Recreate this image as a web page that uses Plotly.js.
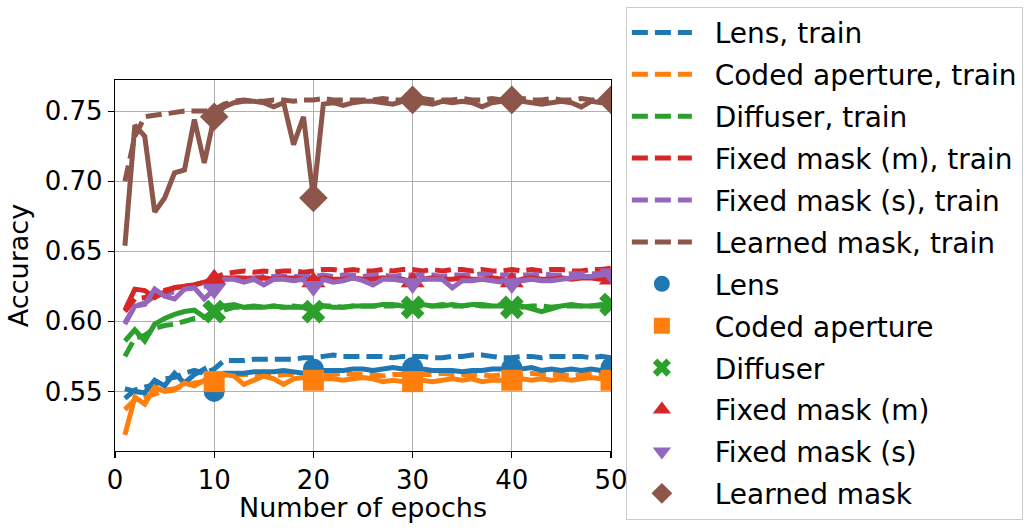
<!DOCTYPE html>
<html>
<head>
<meta charset="utf-8">
<script src="https://cdn.plot.ly/plotly-3.0.1.min.js"></script>
<style>
  html, body { margin: 0; padding: 0; background: #fff; }
  #chart { width: 1034px; height: 531px; }
</style>
</head>
<body>
<div id="chart"></div>
<script>
// epochs on the x axis
const epochs = [1, 2, 3, 4, 5, 6, 7, 8, 9, 10, 11, 12, 13, 14, 15, 16, 17, 18, 19, 20,
  21, 22, 23, 24, 25, 26, 27, 28, 29, 30, 31, 32, 33, 34, 35, 36, 37, 38, 39, 40,
  41, 42, 43, 44, 45, 46, 47, 48, 49, 50];
const markerEpochs = [10, 20, 30, 40, 50];

const methods = ['Lens', 'Coded aperture', 'Diffuser', 'Fixed mask (m)', 'Fixed mask (s)', 'Learned mask'];
const colors = ['#1f77b4', '#ff7f0e', '#2ca02c', '#d62728', '#9467bd', '#8c564b'];
const symbols = ['circle', 'square', 'x', 'triangle-up', 'triangle-down', 'diamond'];

// training accuracy (dashed)
const lensTrain = [0.545, 0.551, 0.553, 0.555, 0.559, 0.560, 0.563, 0.565, 0.563, 0.566,
  0.572, 0.572, 0.572, 0.573, 0.573, 0.573, 0.573, 0.573, 0.574, 0.574,
  0.575, 0.576, 0.575, 0.575, 0.575, 0.575, 0.575, 0.574, 0.575, 0.575,
  0.575, 0.574, 0.574, 0.575, 0.575, 0.576, 0.576, 0.575, 0.574, 0.574,
  0.575, 0.575, 0.574, 0.575, 0.575, 0.575, 0.575, 0.574, 0.575, 0.574];
const codedTrain = [0.537, 0.544, 0.546, 0.548, 0.551, 0.552, 0.554, 0.556, 0.557, 0.559,
  0.562, 0.562, 0.562, 0.562, 0.561, 0.561, 0.562, 0.562, 0.562, 0.562,
  0.562, 0.562, 0.563, 0.562, 0.562, 0.562, 0.561, 0.562, 0.562, 0.562,
  0.562, 0.562, 0.563, 0.562, 0.562, 0.562, 0.562, 0.561, 0.562, 0.562,
  0.562, 0.563, 0.562, 0.562, 0.562, 0.561, 0.562, 0.562, 0.562, 0.562];
const diffuserTrain = [0.575, 0.588, 0.590, 0.595, 0.597, 0.598, 0.600, 0.602, 0.603, 0.605,
  0.608, 0.610, 0.610, 0.610, 0.610, 0.611, 0.610, 0.611, 0.610, 0.610,
  0.611, 0.611, 0.610, 0.611, 0.611, 0.611, 0.611, 0.611, 0.612, 0.611,
  0.611, 0.611, 0.612, 0.611, 0.611, 0.612, 0.611, 0.611, 0.612, 0.611,
  0.610, 0.611, 0.611, 0.610, 0.611, 0.611, 0.611, 0.611, 0.612, 0.611];
const fixedMTrain = [0.607, 0.616, 0.617, 0.620, 0.622, 0.624, 0.625, 0.626, 0.628, 0.631,
  0.634, 0.635, 0.636, 0.635, 0.636, 0.635, 0.636, 0.636, 0.635, 0.636,
  0.637, 0.637, 0.636, 0.637, 0.636, 0.636, 0.637, 0.636, 0.637, 0.637,
  0.636, 0.637, 0.636, 0.637, 0.637, 0.636, 0.637, 0.636, 0.636, 0.637,
  0.636, 0.637, 0.636, 0.637, 0.637, 0.636, 0.636, 0.637, 0.637, 0.638];
const fixedSTrain = [0.599, 0.611, 0.613, 0.618, 0.620, 0.621, 0.623, 0.624, 0.625, 0.627,
  0.630, 0.631, 0.631, 0.631, 0.632, 0.632, 0.632, 0.632, 0.632, 0.632,
  0.633, 0.632, 0.633, 0.633, 0.632, 0.633, 0.633, 0.632, 0.633, 0.633,
  0.633, 0.633, 0.632, 0.633, 0.633, 0.633, 0.634, 0.633, 0.633, 0.633,
  0.633, 0.633, 0.634, 0.633, 0.633, 0.634, 0.634, 0.634, 0.634, 0.635];
const learnedTrain = [0.700, 0.732, 0.746, 0.747, 0.748, 0.749, 0.750, 0.750, 0.750, 0.751,
  0.755, 0.757, 0.758, 0.757, 0.757, 0.758, 0.758, 0.757, 0.758, 0.758,
  0.759, 0.758, 0.758, 0.758, 0.758, 0.758, 0.759, 0.758, 0.758, 0.758,
  0.759, 0.758, 0.758, 0.758, 0.759, 0.758, 0.758, 0.759, 0.758, 0.758,
  0.759, 0.758, 0.758, 0.759, 0.758, 0.758, 0.759, 0.758, 0.758, 0.759];

// test accuracy (solid, marker every 10 epochs)
const lensTest = [0.552, 0.550, 0.549, 0.558, 0.554, 0.563, 0.556, 0.562, 0.566, 0.550,
  0.563, 0.563, 0.563, 0.564, 0.564, 0.564, 0.565, 0.564, 0.563, 0.566,
  0.565, 0.565, 0.565, 0.566, 0.566, 0.565, 0.566, 0.567, 0.566, 0.567,
  0.566, 0.565, 0.565, 0.565, 0.564, 0.565, 0.565, 0.566, 0.566, 0.567,
  0.566, 0.567, 0.565, 0.566, 0.565, 0.566, 0.565, 0.566, 0.565, 0.567];
const codedTest = [0.519, 0.546, 0.541, 0.553, 0.550, 0.551, 0.556, 0.554, 0.558, 0.557,
  0.562, 0.561, 0.555, 0.558, 0.561, 0.559, 0.555, 0.559, 0.560, 0.558,
  0.559, 0.559, 0.558, 0.559, 0.560, 0.559, 0.557, 0.558, 0.557, 0.557,
  0.558, 0.557, 0.558, 0.559, 0.558, 0.559, 0.557, 0.558, 0.558, 0.558,
  0.559, 0.558, 0.559, 0.558, 0.559, 0.558, 0.559, 0.560, 0.559, 0.558];
const diffuserTest = [0.586, 0.594, 0.586, 0.598, 0.602, 0.605, 0.607, 0.608, 0.603, 0.607,
  0.611, 0.612, 0.610, 0.611, 0.610, 0.611, 0.610, 0.610, 0.610, 0.607,
  0.611, 0.610, 0.610, 0.611, 0.611, 0.611, 0.612, 0.612, 0.611, 0.610,
  0.612, 0.611, 0.611, 0.612, 0.611, 0.612, 0.612, 0.611, 0.611, 0.610,
  0.611, 0.609, 0.607, 0.609, 0.611, 0.612, 0.611, 0.611, 0.611, 0.612];
const fixedMTest = [0.608, 0.623, 0.622, 0.617, 0.621, 0.624, 0.625, 0.626, 0.628, 0.630,
  0.631, 0.631, 0.631, 0.630, 0.631, 0.630, 0.631, 0.631, 0.630, 0.628,
  0.631, 0.630, 0.630, 0.631, 0.630, 0.630, 0.631, 0.630, 0.630, 0.628,
  0.630, 0.631, 0.630, 0.630, 0.631, 0.630, 0.630, 0.631, 0.630, 0.628,
  0.630, 0.631, 0.630, 0.630, 0.631, 0.630, 0.631, 0.631, 0.630, 0.630];
const fixedSTest = [0.598, 0.611, 0.612, 0.623, 0.618, 0.616, 0.623, 0.624, 0.616, 0.623,
  0.630, 0.630, 0.628, 0.630, 0.626, 0.630, 0.630, 0.629, 0.630, 0.625,
  0.630, 0.628, 0.629, 0.631, 0.629, 0.626, 0.630, 0.630, 0.629, 0.627,
  0.630, 0.630, 0.630, 0.624, 0.629, 0.629, 0.630, 0.629, 0.628, 0.627,
  0.629, 0.630, 0.629, 0.629, 0.630, 0.631, 0.632, 0.632, 0.633, 0.634];
const learnedTest = [0.654, 0.740, 0.732, 0.678, 0.688, 0.706, 0.708, 0.744, 0.713, 0.746,
  0.753, 0.756, 0.757, 0.757, 0.756, 0.753, 0.756, 0.726, 0.746, 0.688,
  0.755, 0.756, 0.754, 0.756, 0.757, 0.757, 0.756, 0.755, 0.757, 0.758,
  0.756, 0.755, 0.757, 0.756, 0.757, 0.756, 0.753, 0.756, 0.757, 0.758,
  0.757, 0.756, 0.755, 0.756, 0.757, 0.756, 0.753, 0.757, 0.756, 0.758];

const trainSeries = [lensTrain, codedTrain, diffuserTrain, fixedMTrain, fixedSTrain, learnedTrain];
const testSeries = [lensTest, codedTest, diffuserTest, fixedMTest, fixedSTest, learnedTest];

const FONT = 'DejaVu Sans, sans-serif';
const PAD = '\u00a0\u00a0'; // small gap between legend symbol and label
const traces = [];

// dashed train curves, in the legend
methods.forEach((m, i) => {
  traces.push({
    x: epochs, y: trainSeries[i], type: 'scatter', mode: 'lines',
    name: PAD + m + ', train', legendgroup: 'tr' + i,
    line: { color: colors[i], width: 5, dash: '16px,7px' },
    hoverinfo: 'skip'
  });
});

// solid test curves, no legend entry
methods.forEach((m, i) => {
  traces.push({
    x: epochs, y: testSeries[i], type: 'scatter', mode: 'lines',
    showlegend: false,
    line: { color: colors[i], width: 5 },
    hoverinfo: 'skip'
  });
});

// markers every 10 epochs
methods.forEach((m, i) => {
  const ys = markerEpochs.map(e => testSeries[i][epochs.indexOf(e)]);
  traces.push({
    x: markerEpochs, y: ys, type: 'scatter', mode: 'markers',
    name: PAD + m, legendgroup: 'te' + i,
    marker: { color: colors[i], symbol: symbols[i], size: i === 5 ? 22 : 21, line: { width: 0 } },
    cliponaxis: true,
    hoverinfo: 'skip'
  });
});

const axisCommon = {
  showline: true, linecolor: '#000', linewidth: 1.2, mirror: true,
  ticks: 'outside', ticklen: 6, tickwidth: 1.2, tickcolor: '#000',
  showgrid: true, gridcolor: '#b0b0b0', gridwidth: 1,
  zeroline: false, automargin: false,
  tickfont: { family: FONT, size: 26, color: '#000' }
};

const layout = {
  width: 1034, height: 531,
  margin: { l: 115, r: 423, t: 80, b: 80, autoexpand: false },
  paper_bgcolor: '#fff', plot_bgcolor: '#fff',
  font: { family: FONT, size: 27, color: '#000' },
  xaxis: Object.assign({}, axisCommon, {
    range: [0, 50], tickvals: [0, 10, 20, 30, 40, 50]
  }),
  yaxis: Object.assign({}, axisCommon, {
    range: [0.5075, 0.7722], tickvals: [0.55, 0.60, 0.65, 0.70, 0.75],
    tickformat: '.2f',
    title: { text: 'Accuracy', font: { family: FONT, size: 27 }, standoff: 8 }
  }),
  annotations: [{
    text: 'Number of epochs', xref: 'paper', yref: 'paper',
    x: 0.5, y: -0.152, xanchor: 'center', yanchor: 'middle',
    showarrow: false, font: { family: FONT, size: 27, color: '#000' }
  }],
  showlegend: true,
  legend: {
    x: 1.03, xanchor: 'left', y: 1.1976, yanchor: 'top',
    bgcolor: '#fff', bordercolor: '#cccccc', borderwidth: 1,
    font: { family: FONT, size: 28, color: '#000' },
    traceorder: 'grouped', tracegroupgap: 2.5, itemwidth: 60,
    maxheight: 528
  }
};

Plotly.newPlot('chart', traces, layout, { staticPlot: true });
</script>
</body>
</html>
